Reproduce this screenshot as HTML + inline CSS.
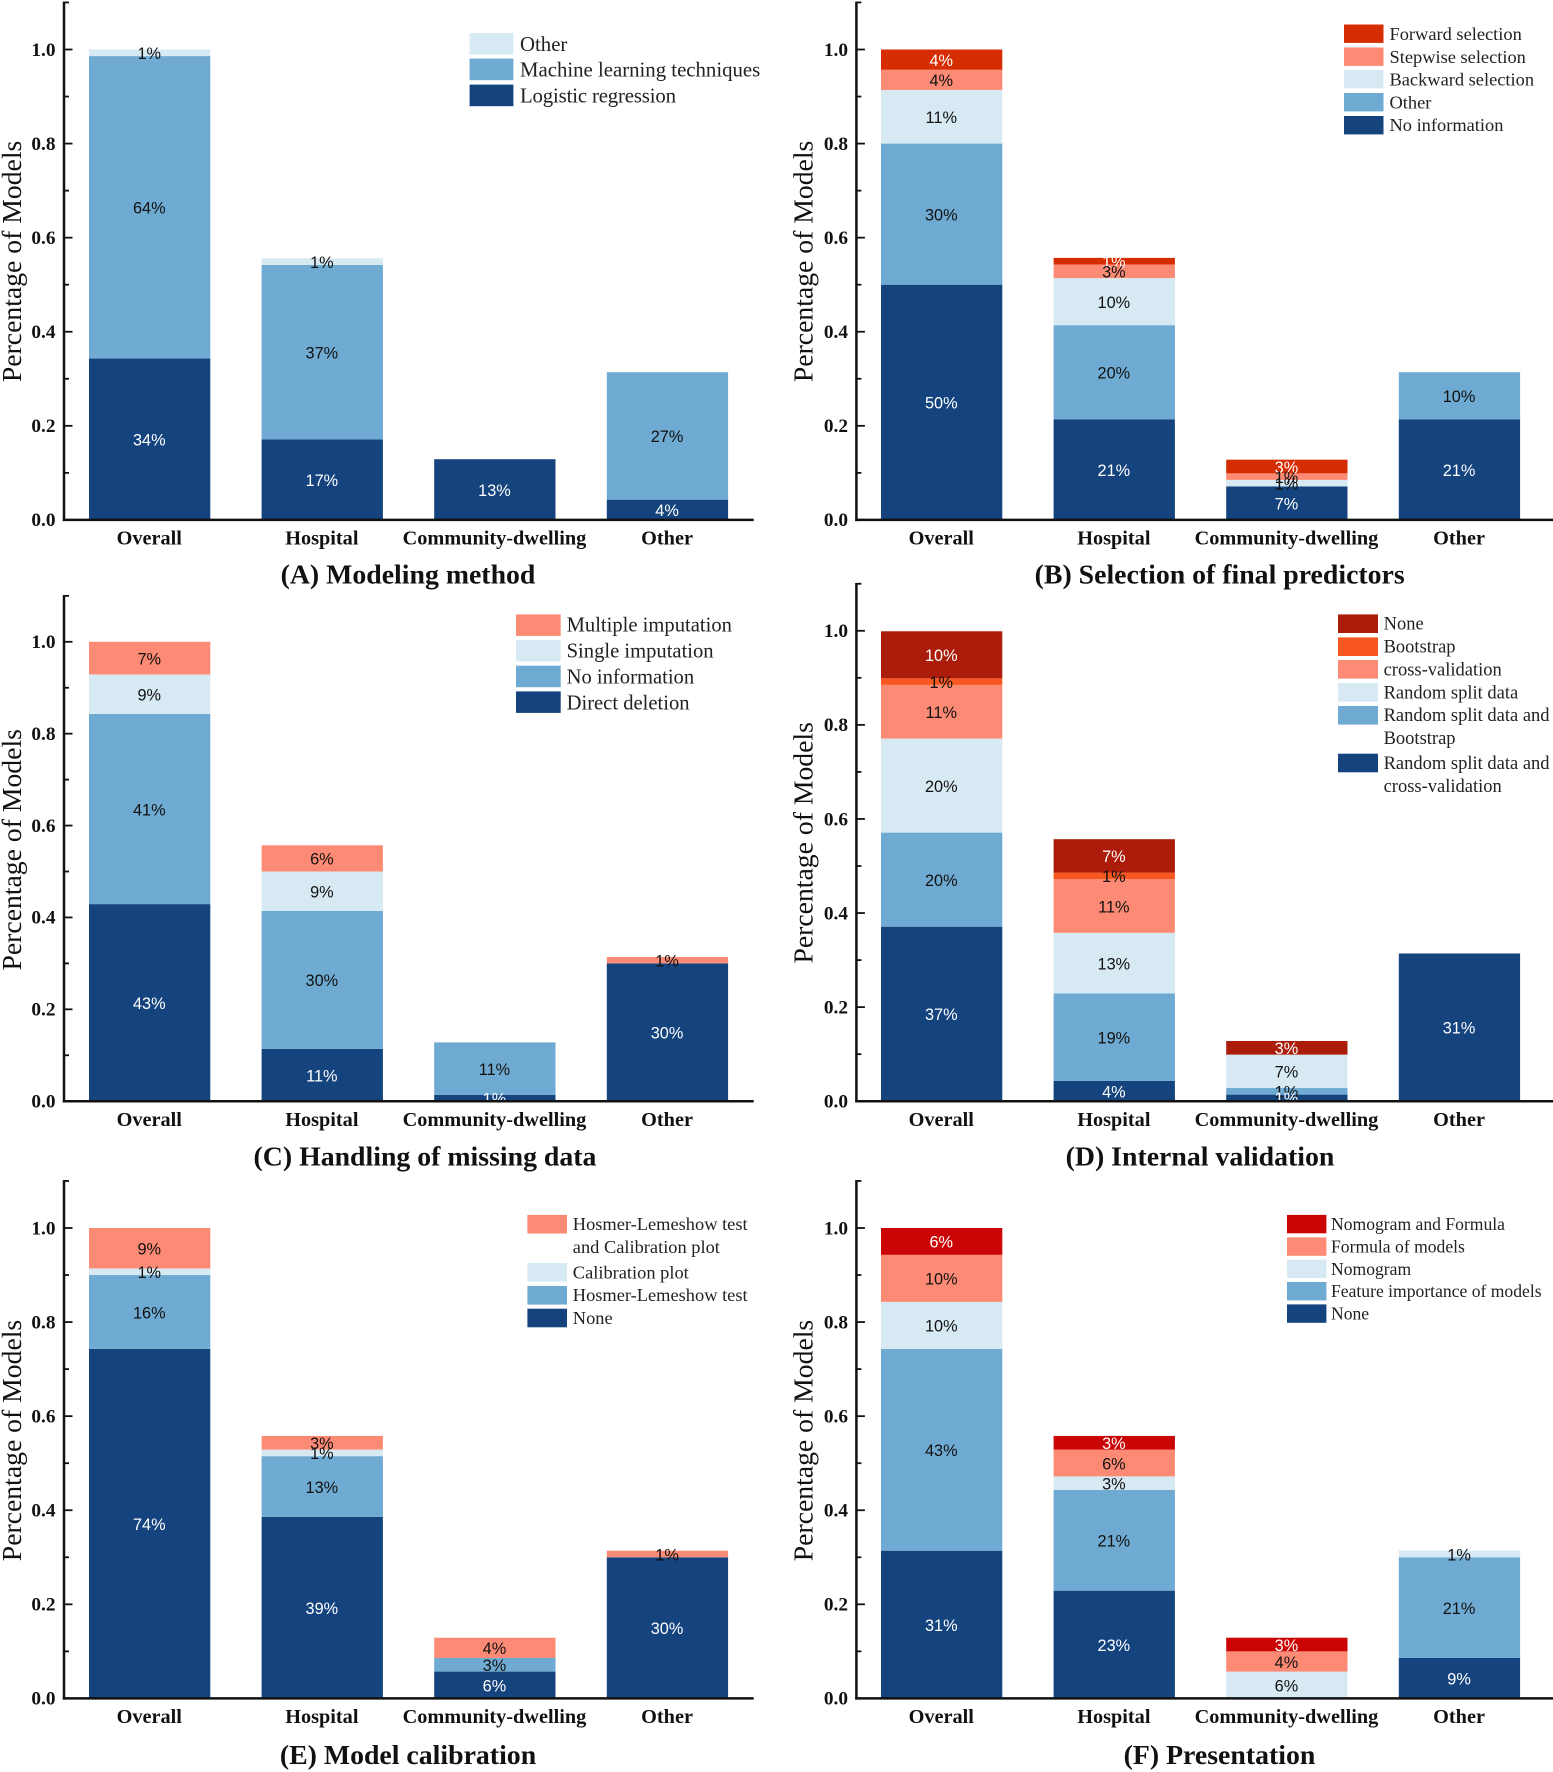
<!DOCTYPE html>
<html lang="en">
<head>
<meta charset="utf-8">
<title>Model development characteristics by setting</title>
<style>
html,body{margin:0;padding:0;background:#fff;width:1553px;height:1772px;overflow:hidden}
svg{display:block}
</style>
</head>
<body>
<svg id="figure" xmlns="http://www.w3.org/2000/svg" width="1553" height="1772" viewBox="0 0 1553 1772"></svg>
<script>
/* ---------- shared data ---------- */
const categories = ['Overall', 'Hospital', 'Community-dwelling', 'Other'];
const yTickValues = [0, 0.1, 0.2, 0.3, 0.4, 0.5, 0.6, 0.7, 0.8, 0.9, 1.0, 1.1];
const yTickLabels = ['0.0', '', '0.2', '', '0.4', '', '0.6', '', '0.8', '', '1.0', ''];

/* ---------- panel A values, bottom to top ---------- */
const aLogistic = [0.343, 0.171, 0.129, 0.043];
const aMachine = [0.643, 0.371, 0, 0.271];
const aOther = [0.014, 0.014, 0, 0];

/* ---------- panel B values ---------- */
const bNoInfo = [0.5, 0.214, 0.071, 0.214];
const bOther = [0.3, 0.2, 0, 0.1];
const bBackward = [0.114, 0.1, 0.014, 0];
const bStepwise = [0.043, 0.029, 0.014, 0];
const bForward = [0.043, 0.014, 0.029, 0];

/* ---------- panel C values ---------- */
const cDirect = [0.429, 0.114, 0.014, 0.3];
const cNoInfo = [0.414, 0.3, 0.114, 0];
const cSingle = [0.086, 0.086, 0, 0];
const cMultiple = [0.071, 0.057, 0, 0.014];

/* ---------- panel D values ---------- */
const dSplitCv = [0.371, 0.043, 0.014, 0.314];
const dSplitBoot = [0.2, 0.186, 0.014, 0];
const dSplit = [0.2, 0.129, 0.071, 0];
const dCv = [0.114, 0.114, 0, 0];
const dBoot = [0.014, 0.014, 0, 0];
const dNone = [0.1, 0.071, 0.029, 0];

/* ---------- panel E values ---------- */
const eNone = [0.743, 0.386, 0.057, 0.3];
const eHl = [0.157, 0.129, 0.029, 0];
const eCalib = [0.014, 0.014, 0, 0];
const eBoth = [0.086, 0.029, 0.043, 0.014];

/* ---------- panel F values ---------- */
const fNone = [0.314, 0.229, 0, 0.086];
const fFeature = [0.429, 0.214, 0, 0.214];
const fNomogram = [0.1, 0.029, 0.057, 0.014];
const fFormula = [0.1, 0.057, 0.043, 0];
const fBoth = [0.057, 0.029, 0.029, 0];

/* ---------- styling ---------- */
const NAVY = '#14437e', MID = '#6eaad1', LIGHT = '#d7e9f2', SALMON = '#fd8a74';
const FORWARD = '#d52c02', DARKRED = '#ab1c0a', ORANGE = '#f8581f', RED = '#cb0505';
const WHITE_TEXT = [NAVY, FORWARD, DARKRED, RED];

const panels = [
  { key: 'a', title: '(A) Modeling method', titleX: 408, titleY: 583.5, col: 0, base: 519.9, unit: 470.4, yTitleY: 261.4,
    series: [aLogistic, aMachine, aOther], colors: [NAVY, MID, LIGHT],
    legend: { sx: 469.6, sw: 43.8, sh: 21.6, tx: 520, fs: 20.8, rows: [
      { c: LIGHT, top: 33, lines: [['Other', 50.9]] },
      { c: MID, top: 58.6, lines: [['Machine learning techniques', 76.6]] },
      { c: NAVY, top: 84.6, lines: [['Logistic regression', 102.6, 156]] } ] } },
  { key: 'b', title: '(B) Selection of final predictors', titleX: 1219.7, titleY: 583.5, col: 1, base: 519.9, unit: 470.4, yTitleY: 261.4,
    series: [bNoInfo, bOther, bBackward, bStepwise, bForward], colors: [NAVY, MID, LIGHT, SALMON, FORWARD],
    legend: { sx: 1344, sw: 39.5, sh: 18.4, tx: 1389.5, fs: 18.4, rows: [
      { c: FORWARD, top: 24.5, lines: [['Forward selection', 40]] },
      { c: SALMON, top: 47.5, lines: [['Stepwise selection', 62.8]] },
      { c: LIGHT, top: 70, lines: [['Backward selection', 85.5]] },
      { c: MID, top: 93, lines: [['Other', 108.5]] },
      { c: NAVY, top: 116, lines: [['No information', 131.1]] } ] } },
  { key: 'c', title: '(C) Handling of missing data', titleX: 425, titleY: 1165.5, col: 0, base: 1101.2, unit: 459.4, yTitleY: 849.8,
    series: [cDirect, cNoInfo, cSingle, cMultiple], colors: [NAVY, MID, LIGHT, SALMON],
    legend: { sx: 516, sw: 44.7, sh: 21.5, tx: 566.6, fs: 20.6, rows: [
      { c: SALMON, top: 614.4, lines: [['Multiple imputation', 631.7]] },
      { c: LIGHT, top: 640, lines: [['Single imputation', 657.7]] },
      { c: MID, top: 665.7, lines: [['No information', 683.3]] },
      { c: NAVY, top: 691.4, lines: [['Direct deletion', 709.4]] } ] } },
  { key: 'd', title: '(D) Internal validation', titleX: 1200, titleY: 1165.5, col: 1, base: 1101.2, unit: 470.4, yTitleY: 842.8,
    series: [dSplitCv, dSplitBoot, dSplit, dCv, dBoot, dNone], colors: [NAVY, MID, LIGHT, SALMON, ORANGE, DARKRED],
    legend: { sx: 1338, sw: 40, sh: 18.6, tx: 1383.6, fs: 18.5, rows: [
      { c: DARKRED, top: 614.4, lines: [['None', 629.6]] },
      { c: ORANGE, top: 637.4, lines: [['Bootstrap', 652.5]] },
      { c: SALMON, top: 660, lines: [['cross-validation', 675.5]] },
      { c: LIGHT, top: 683, lines: [['Random split data', 698.4]] },
      { c: MID, top: 706, lines: [['Random split data and', 721], ['Bootstrap', 744]] },
      { c: NAVY, top: 753.7, lines: [['Random split data and', 769.2], ['cross-validation', 792.2]] } ] } },
  { key: 'e', title: '(E) Model calibration', titleX: 408, titleY: 1764, col: 0, base: 1698.4, unit: 470.4, yTitleY: 1440.5,
    series: [eNone, eHl, eCalib, eBoth], colors: [NAVY, MID, LIGHT, SALMON],
    legend: { sx: 527.4, sw: 39.6, sh: 18.6, tx: 572.8, fs: 18.4, rows: [
      { c: SALMON, top: 1214.9, lines: [['Hosmer-Lemeshow test', 1230], ['and Calibration plot', 1253]] },
      { c: LIGHT, top: 1263, lines: [['Calibration plot', 1278.4]] },
      { c: MID, top: 1286, lines: [['Hosmer-Lemeshow test', 1301]] },
      { c: NAVY, top: 1308.7, lines: [['None', 1324]] } ] } },
  { key: 'f', title: '(F) Presentation', titleX: 1219.5, titleY: 1764, col: 1, base: 1698.4, unit: 470.4, yTitleY: 1440.5,
    series: [fNone, fFeature, fNomogram, fFormula, fBoth], colors: [NAVY, MID, LIGHT, SALMON, RED],
    legend: { sx: 1287, sw: 39.4, sh: 18.4, tx: 1331, fs: 17.6, rows: [
      { c: RED, top: 1214.9, lines: [['Nomogram and Formula', 1230]] },
      { c: SALMON, top: 1237.4, lines: [['Formula of models', 1252.3]] },
      { c: LIGHT, top: 1259.7, lines: [['Nomogram', 1275]] },
      { c: MID, top: 1282, lines: [['Feature importance of models', 1297.2]] },
      { c: NAVY, top: 1304.4, lines: [['None', 1319.5]] } ] } }
];

const columns = [
  { spineX: 64, xEnd: 753.7, barX0: 89, yTitleX: 21, tickRight: 55.5 },
  { spineX: 856.4, xEnd: 1553, barX0: 881, yTitleX: 812.5, tickRight: 848 }
];
const BAR_PITCH = 172.6, BAR_WIDTH = 121.3;

/* ---------- helpers ---------- */
const NS = 'http://www.w3.org/2000/svg';
const root = document.getElementById('figure');
function node(tag, attrs, parent, text) {
  const el = document.createElementNS(NS, tag);
  for (const k in attrs) el.setAttribute(k, attrs[k]);
  if (text !== undefined) el.textContent = text;
  parent.appendChild(el);
  return el;
}
const serif = '"Liberation Serif", serif';
const sans = '"Liberation Sans", sans-serif';

panels.forEach(function (p) {
  const col = columns[p.col];
  const yScale = function (v) { return p.base - v * p.unit; };
  const xBand = function (i) { return col.barX0 + i * BAR_PITCH; };

  const g = node('g', {}, root);
  
  

  const clip = node('clipPath', { id: 'clip-' + p.key }, g);
  node('rect', { x: col.spineX, y: yScale(1.1), width: col.xEnd - col.spineX, height: p.base - yScale(1.1) }, clip);

  /* bars */
  const barsG = node('g', {}, g);
  
  
  const labels = [];
  categories.forEach(function (cat, i) {
    let acc = 0;
    p.series.forEach(function (vals, s) {
      const v = vals[i];
      if (!v) return;
      const y0 = yScale(acc), y1 = yScale(acc + v);
      const bar = node('rect', { x: xBand(i), y: y1, width: BAR_WIDTH, height: y0 - y1, fill: p.colors[s] }, barsG);
      
      
      labels.push({ x: xBand(i) + BAR_WIDTH / 2, y: (y0 + y1) / 2, v: v, c: p.colors[s], id: i + '-' + s });
      acc += v;
    });
  });

  /* printed values, top segments first so lower labels overlay them */
  const labG = node('g', { 'clip-path': 'url(#clip-' + p.key + ')' }, g);
  
  
  labels.slice().reverse().forEach(function (l) {
    const t = node('text', {
      x: l.x - 0.4, y: l.y + 6.3, 'text-anchor': 'middle', 'font-family': sans, 'font-size': 16.3,
      fill: WHITE_TEXT.indexOf(l.c) >= 0 ? '#ffffff' : '#111111'
    }, labG, Math.round(l.v * 100) + '%');
    
    
  });

  /* y axis */
  const yAxis = node('line', { x1: col.spineX, x2: col.spineX, y1: yScale(1.1) - 0.8, y2: p.base + 1.2, stroke: '#111', 'stroke-width': 2.5 }, g);
  
  
  yTickValues.forEach(function (v, i) {
    const major = yTickLabels[i] !== '';
    const tick = node('line', { x1: col.spineX, x2: col.spineX + (major ? 8.5 : 5), y1: yScale(v), y2: yScale(v), stroke: '#111', 'stroke-width': 1.8 }, g);
    
    
    if (major) {
      const tl = node('text', { x: col.tickRight, y: yScale(v) + 6.3, 'text-anchor': 'end', 'font-family': serif, 'font-weight': 'bold', 'font-size': 19.3, fill: '#111' }, g, yTickLabels[i]);
      
      
    }
  });

  /* x axis */
  const xAxis = node('line', { x1: col.spineX - 1.2, x2: col.xEnd, y1: p.base, y2: p.base, stroke: '#111', 'stroke-width': 2.5 }, g);
  
  
  categories.forEach(function (cat, i) {
    const xl = node('text', { x: xBand(i) + BAR_WIDTH / 2 - 0.4, y: p.base + 24.6, 'text-anchor': 'middle', 'font-family': serif, 'font-weight': 'bold', 'font-size': 20.3, fill: '#111' }, g, cat);
    
    
  });

  /* axis title */
  const yt = node('text', {
    x: col.yTitleX, y: p.yTitleY, 'text-anchor': 'middle', 'font-family': serif, 'font-size': 27.7, fill: '#111',
    transform: 'rotate(-90 ' + col.yTitleX + ' ' + p.yTitleY + ')'
  }, g, 'Percentage of Models');
  
  

  /* panel title */
  const title = node('text', { x: p.titleX, y: p.titleY, 'text-anchor': 'middle', 'font-family': serif, 'font-weight': 'bold', 'font-size': 27.8, fill: '#111' }, g, p.title);
  
  

  /* legend */
  const lg = node('g', {}, g);
  
  
  p.legend.rows.forEach(function (r, i) {
    const entry = node('g', {}, lg);
    
    
    const sw = node('rect', { x: p.legend.sx, y: r.top, width: p.legend.sw, height: p.legend.sh, fill: r.c }, entry);
    
    
    r.lines.forEach(function (ln, j) {
      const t = node('text', { x: p.legend.tx, y: ln[1], 'font-family': serif, 'font-size': p.legend.fs, fill: '#222' }, entry, ln[0]);
      if (ln[2]) t.setAttribute('textLength', ln[2]);
      
      
    });
  });
});
</script>
</body>
</html>
